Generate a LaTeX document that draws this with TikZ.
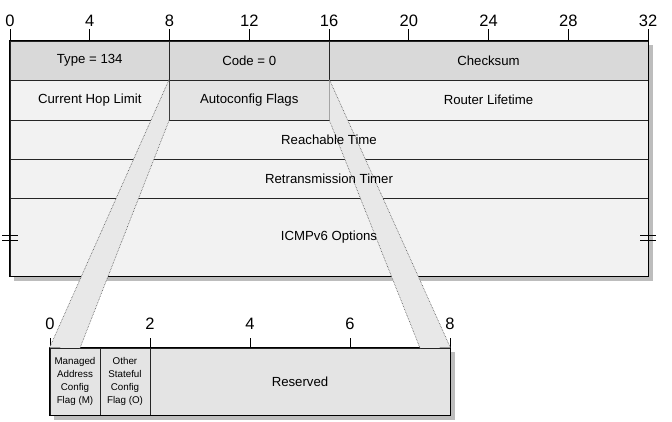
\documentclass[tikz,border=0pt]{standalone}
\usepackage{fontspec}
\setmainfont{Liberation Sans}
\definecolor{hdrGray}{HTML}{D9D9D9}
\definecolor{rowGray}{HTML}{F2F2F2}
\definecolor{flagGray}{HTML}{E4E4E4}
\definecolor{bandGray}{HTML}{E8E8E8}
\definecolor{shadowGray}{HTML}{BDBDBD}
\begin{document}
\begin{tikzpicture}[
    x=1pt,y=-1pt,
    icmpCell/.style={rectangle,draw=black!85,line width=0.8pt,inner sep=0pt,minimum height=#1},
    icmpCell/.default=39pt,
    icmpText/.style={font=\fontsize{13.2}{15}\selectfont},
    flagText/.style={font=\fontsize{9.8}{13.2}\selectfont,align=center},
    bitNum/.style={font=\fontsize{16.5}{18}\selectfont},
    bandEdge/.style={draw=black!70,densely dotted,line width=0.6pt},
]
\useasboundingbox (0,0) rectangle (672,421);
% shadows
\fill[shadowGray] (14,45) rectangle (653,281);
\fill[shadowGray] (54,352) rectangle (455,420);
% header rows
\node[icmpCell,fill=hdrGray,minimum width=159.5pt] (typeCell) at (89.75,60.5) {};
\node[icmpCell,fill=hdrGray,minimum width=159.5pt] (codeCell) at (249.25,60.5) {};
\node[icmpCell,fill=hdrGray,minimum width=319pt] (sumCell) at (488.5,60.5) {};
\node[icmpCell=40pt,fill=rowGray,minimum width=159.5pt] (hopCell) at (89.75,100) {};
\node[icmpCell=40pt,fill=flagGray,minimum width=159.5pt] (acfCell) at (249.25,100) {};
\node[icmpCell=40pt,fill=rowGray,minimum width=319pt] (lifeCell) at (488.5,100) {};
\node[icmpCell,fill=rowGray,minimum width=638pt] (reachCell) at (329,139.5) {};
\node[icmpCell,fill=rowGray,minimum width=638pt] (retxCell) at (329,178.5) {};
\node[icmpCell=78pt,fill=rowGray,minimum width=638pt] (optCell) at (329,237) {};
\draw[line width=1.2pt] (typeCell.north west) rectangle (optCell.south east);
% flags field
\node[icmpCell=67pt,fill=flagGray,minimum width=50pt] (mCell) at (75,381.5) {};
\node[icmpCell=67pt,fill=flagGray,minimum width=50pt] (oCell) at (125,381.5) {};
\node[icmpCell=67pt,fill=flagGray,minimum width=300pt] (rsvCell) at (300,381.5) {};
\draw[line width=1.2pt] (mCell.north west) rectangle (rsvCell.south east);
% bit scales
\foreach \b in {0,4,...,32}{
  \draw[line width=1pt] (10+\b*19.9375,29) -- (10+\b*19.9375,41);
  \node[bitNum] (top\b) at (10+\b*19.9375,20.5) {\b};
}
\foreach \b in {0,2,...,8}{
  \draw[line width=1pt] (50+\b*50,338) -- (50+\b*50,348);
  \node[bitNum] (low\b) at (50+\b*50,323.5) {\b};
}
% expansion bands
\coordinate (mTop) at (80,348);
\coordinate (rTop) at (420,348);
\fill[bandGray] (acfCell.north west) -- (acfCell.south west) -- (mTop) -- (mCell.north west) -- cycle;
\fill[bandGray] (acfCell.north east) -- (acfCell.south east) -- (rTop) -- (rsvCell.north east) -- cycle;
\draw[bandEdge] (acfCell.north west) -- (mCell.north west);
\draw[bandEdge] (acfCell.south west) -- (mTop);
\draw[bandEdge] (acfCell.north east) -- (rsvCell.north east);
\draw[bandEdge] (acfCell.south east) -- (rTop);
% break marks
\draw[line width=1.2pt] (2,235.5) -- (18,235.5) (2,240.5) -- (18,240.5);
\draw[line width=1.2pt] (640,235.5) -- (656,235.5) (640,240.5) -- (656,240.5);
% labels
\node[icmpText] (typeLbl) at (typeCell) {Type = 134};
\node[icmpText] (codeLbl) at (codeCell) {Code = 0};
\node[icmpText] (sumLbl) at (sumCell) {Checksum};
\node[icmpText] (hopLbl) at (hopCell) {Current Hop Limit};
\node[icmpText] (acfLbl) at (acfCell) {Autoconfig Flags};
\node[icmpText] (lifeLbl) at (lifeCell) {Router Lifetime};
\node[icmpText] (reachLbl) at (reachCell) {Reachable Time};
\node[icmpText] (retxLbl) at (retxCell) {Retransmission Timer};
\node[icmpText] (optLbl) at (optCell) {ICMPv6 Options};
\node[flagText] (mLbl) at (mCell) {Managed\\Address\\Config\\Flag (M)};
\node[flagText] (oLbl) at (oCell) {Other\\Stateful\\Config\\Flag (O)};
\node[icmpText] (rsvLbl) at (rsvCell) {Reserved};
\end{tikzpicture}
\end{document}
